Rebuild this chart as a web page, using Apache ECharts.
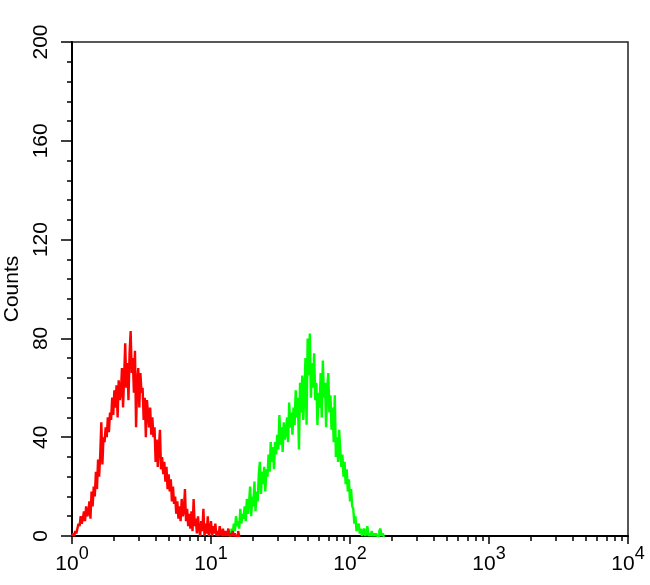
<!DOCTYPE html>
<html>
<head>
<meta charset="utf-8">
<script src="https://cdn.jsdelivr.net/npm/echarts@6/dist/echarts.min.js"></script>
<style>
html,body{margin:0;padding:0;background:#fff;}
#chart{width:650px;height:585px;}
</style>
</head>
<body>
<div id="chart"></div>
<script>
// Histogram channels: 128 channels per decade, channel c -> intensity 10^(c/128)
var channelsPerDecade = 128;
var redStart = 0;
var redCounts = [
  0,1,0,2,1, 3,5,4,8,5, 7,10,6,12,8, 9,14,7,18,12,
  20,16,26,19,31, 24,33,46,29,40, 38,44,40,48,42, 50,47,56,49,59,
  52,61,48,63,55, 58,68,52,64,78, 60,70,55,74,83, 66,72,58,75,44,
  62,68,52,66,58, 60,47,56,40,55, 50,44,52,41,48, 40,44,30,39,28,
  36,43,27,32,25, 30,22,28,19,25, 18,23,14,20,13, 16,9,14,7,12,
  6,15,8,10,19, 6,11,4,9,3, 10,2,15,4,7, 1,8,3,0,6,
  2,11,0,5,1, 8,0,3,6,0, 4,1,5,0,2, 0,4,1,0,3,
  0,2,0,1,3, 0,1,0,2,0, 1,0,0,2,0,0
];
var greenStart = 144;
var greenCounts = [
  0,1,0,3,1, 5,2,8,4,6, 3,11,5,9,7, 12,6,15,9,13,
  20,8,16,12,22, 10,18,14,25,30, 17,26,21,28,18, 27,24,33,26,38,
  30,36,27,38,33, 41,35,49,37,44, 34,46,39,42,48, 38,54,44,50,41,
  52,45,59,48,56, 35,62,50,65,47, 58,72,45,80,65, 82,56,70,60,74,
  55,62,45,58,52, 66,48,71,56,62, 44,60,66,50,57, 43,52,38,57,32,
  40,30,43,35,28, 33,24,30,21,27, 18,23,14,19,12, 11,5,8,2,4,
  5,1,3,0,2, 3,0,1,4,0, 1,0,2,0,1, 0,1,0,0,2, 3,0,1,0,0
];
var yTicks = [0, 40, 80, 120, 160, 200];
var xDecades = [1, 10, 100, 1000, 10000];

function toPairs(start, counts) {
  return counts.map(function (v, i) {
    return [Math.pow(10, (start + i) / channelsPerDecade), v];
  });
}
var minorTickValues = [];
for (var d = 0; d < 4; d++) {
  for (var k = 2; k <= 9; k++) minorTickValues.push(d + Math.log10(k));
}

var chart = echarts.init(document.getElementById('chart'), null, {renderer: 'canvas'});
var font = '"Liberation Sans", Arial, sans-serif';
chart.setOption({
  animation: false,
  backgroundColor: '#ffffff',
  grid: {left: 72, right: 22, top: 42, bottom: 49, containLabel: false, outerBoundsMode: 'none',
         show: true, borderColor: '#222', borderWidth: 1.5, backgroundColor: 'transparent'},
  xAxis: [{
    type: 'log', logBase: 10, min: xDecades[0], max: xDecades[xDecades.length - 1], splitNumber: 4,
    position: 'bottom',
    axisLine: {show: true, lineStyle: {color: '#000', width: 2}},
    axisTick: {show: true, length: 8, lineStyle: {color: '#000', width: 1.5}},
    splitLine: {show: false},
    minorTick: {show: false},
    axisLabel: {
      margin: 9, color: '#000', fontFamily: font,
      formatter: function (v) { return '{m|10}{s|' + Math.round(Math.log10(v)) + '}'; },
      rich: {
        m: {fontSize: 21, fontFamily: font, color: '#000', lineHeight: 30, verticalAlign: 'bottom'},
        s: {fontSize: 18, fontFamily: font, color: '#000', lineHeight: 18, verticalAlign: 'top'}
      }
    }
  }, {
    type: 'value', min: 0, max: 4, position: 'bottom', gridIndex: 0,
    axisLine: {show: false},
    axisTick: {show: true, length: 5, customValues: minorTickValues, lineStyle: {color: '#000', width: 1.5}},
    axisLabel: {show: false},
    splitLine: {show: false}
  }],
  yAxis: {
    type: 'value', min: yTicks[0], max: yTicks[yTicks.length - 1], interval: 40,
    name: 'Counts', nameLocation: 'middle', nameRotate: 90, nameGap: 45,
    nameTextStyle: {fontSize: 21, fontFamily: font, color: '#000'},
    axisLine: {show: true, lineStyle: {color: '#000', width: 2}},
    axisTick: {show: true, length: 11, lineStyle: {color: '#000', width: 1.5}},
    minorTick: {show: true, splitNumber: 5, length: 5, lineStyle: {color: '#000', width: 1.5}},
    splitLine: {show: false},
    minorSplitLine: {show: false},
    axisLabel: {rotate: 90, margin: 20, fontSize: 21, fontFamily: font, color: '#000'}
  },
  series: [{
    type: 'line', name: 'green', step: 'end', showSymbol: false, symbol: 'none',
    xAxisIndex: 0, data: toPairs(greenStart, greenCounts),
    lineStyle: {color: '#00ff00', width: 2.4}, itemStyle: {color: '#00ff00'}, z: 2
  }, {
    type: 'line', name: 'red', step: 'end', showSymbol: false, symbol: 'none',
    xAxisIndex: 0, data: toPairs(redStart, redCounts),
    lineStyle: {color: '#ff0000', width: 2.4}, itemStyle: {color: '#ff0000'}, z: 3
  }]
});
</script>
</body>
</html>
